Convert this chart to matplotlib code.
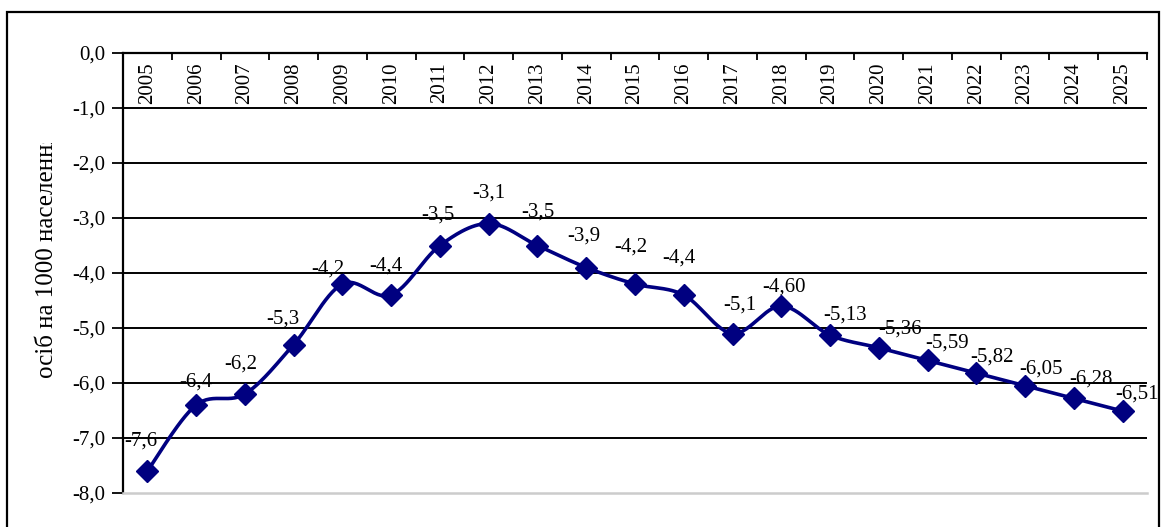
import numpy as np
import matplotlib
matplotlib.use('Agg')
import matplotlib.pyplot as plt
from matplotlib.patches import Rectangle
from matplotlib.transforms import Bbox

years = ['2005', '2006', '2007', '2008', '2009', '2010', '2011', '2012', '2013', '2014', '2015',
         '2016', '2017', '2018', '2019', '2020', '2021', '2022', '2023', '2024', '2025']
values = [-7.6, -6.4, -6.2, -5.3, -4.2, -4.4, -3.5, -3.1, -3.5, -3.9, -4.2,
          -4.4, -5.1, -4.60, -5.13, -5.36, -5.59, -5.82, -6.05, -6.28, -6.51]
value_labels = ['-7,6', '-6,4', '-6,2', '-5,3', '-4,2', '-4,4', '-3,5', '-3,1', '-3,5', '-3,9', '-4,2',
                '-4,4', '-5,1', '-4,60', '-5,13', '-5,36', '-5,59', '-5,82', '-6,05', '-6,28', '-6,51']
ylabel = 'осіб на 1000 населення'

# label offsets (pixels) as placed in the original
label_offsets = [(-7, 30), (0, 23), (-4, 30), (-11, 25), (-15, 15), (-5, 29), (-2, 30), (0, 30),
                 (0, 33), (-2, 31), (-4, 37), (-5, 37), (7, 28), (3, 19), (15, 20), (21, 19),
                 (19, 17), (16, 16), (16, 17), (17, 19), (14, 17)]

plt.rcParams['font.family'] = ['Liberation Serif', 'DejaVu Serif']
navy = '#000080'

fig = plt.figure(figsize=(11.63, 5.27), dpi=100)
ax = fig.add_axes([123 / 1163, 34 / 527, 1024 / 1163, 440 / 527])

x = np.arange(len(values))
y = np.array(values)

# smoothed line like Excel (Catmull-Rom as cubic bezier)
sx, sy = [], []
t = np.linspace(0, 1, 30)
for i in range(len(x) - 1):
    p0 = np.array([x[max(i - 1, 0)], y[max(i - 1, 0)]])
    p1 = np.array([x[i], y[i]])
    p2 = np.array([x[i + 1], y[i + 1]])
    p3 = np.array([x[min(i + 2, len(x) - 1)], y[min(i + 2, len(x) - 1)]])
    c1 = p1 + (p2 - p0) / 6
    c2 = p2 - (p3 - p1) / 6
    pts = ((1 - t) ** 3)[:, None] * p1 + (3 * (1 - t) ** 2 * t)[:, None] * c1 \
        + (3 * (1 - t) * t ** 2)[:, None] * c2 + (t ** 3)[:, None] * p2
    sx.extend(pts[:, 0])
    sy.extend(pts[:, 1])

ax.plot(sx, sy, color=navy, lw=2.6, zorder=3)
ax.plot(x, y, 'D', color=navy, ms=11.5, ls='none', zorder=4)

ax.set_xlim(-0.5, len(values) - 0.5)
ax.set_ylim(-8, 0)

yticks = np.arange(-8, 0.5, 1.0)
ax.set_yticks(yticks)
ax.set_yticklabels([f'{v:.1f}'.replace('.', ',') for v in yticks], fontsize=15)
ax.tick_params(axis='y', direction='out', length=8, width=1.3, pad=5, colors='black')
for v in yticks[1:-1]:
    ax.axhline(v, color='black', lw=1.4, zorder=1)

ax.xaxis.tick_top()
ax.set_xticks(np.arange(-0.5, len(values), 1.0))
ax.tick_params(axis='x', direction='in', length=5, width=1.3, labeltop=False, bottom=False)
for i, yr in enumerate(years):
    ax.annotate(yr, xy=(i, 0), xytext=(0, -9), textcoords='offset pixels',
                rotation=90, ha='center', va='top', fontsize=15)

for i, lab in enumerate(value_labels):
    dx, dy = label_offsets[i]
    ax.annotate(lab, xy=(i, values[i]), xytext=(dx, dy), textcoords='offset pixels',
                ha='center', va='center', fontsize=15, zorder=5)

ax.spines['top'].set_linewidth(1.6)
ax.spines['left'].set_linewidth(1.6)
ax.spines['right'].set_visible(False)
ax.spines['bottom'].set_color('#cccccc')
ax.spines['bottom'].set_linewidth(1.8)

# y label is cut off at the top in the original
yl = fig.text(47 / 1163, 1 - 378 / 527, ylabel, rotation=90, ha='center', va='bottom', fontsize=18)
yl.set_clip_box(Bbox([[0, 0], [120, 527 - 143]]))
yl.set_clip_on(True)

fig.patches.append(Rectangle((7 / 1163, -0.05), 1152 / 1163, 1 - 12 / 527 + 0.05,
                             transform=fig.transFigure, fill=False, lw=1.6, ec='black'))

fig.savefig('out.png', dpi=100)
